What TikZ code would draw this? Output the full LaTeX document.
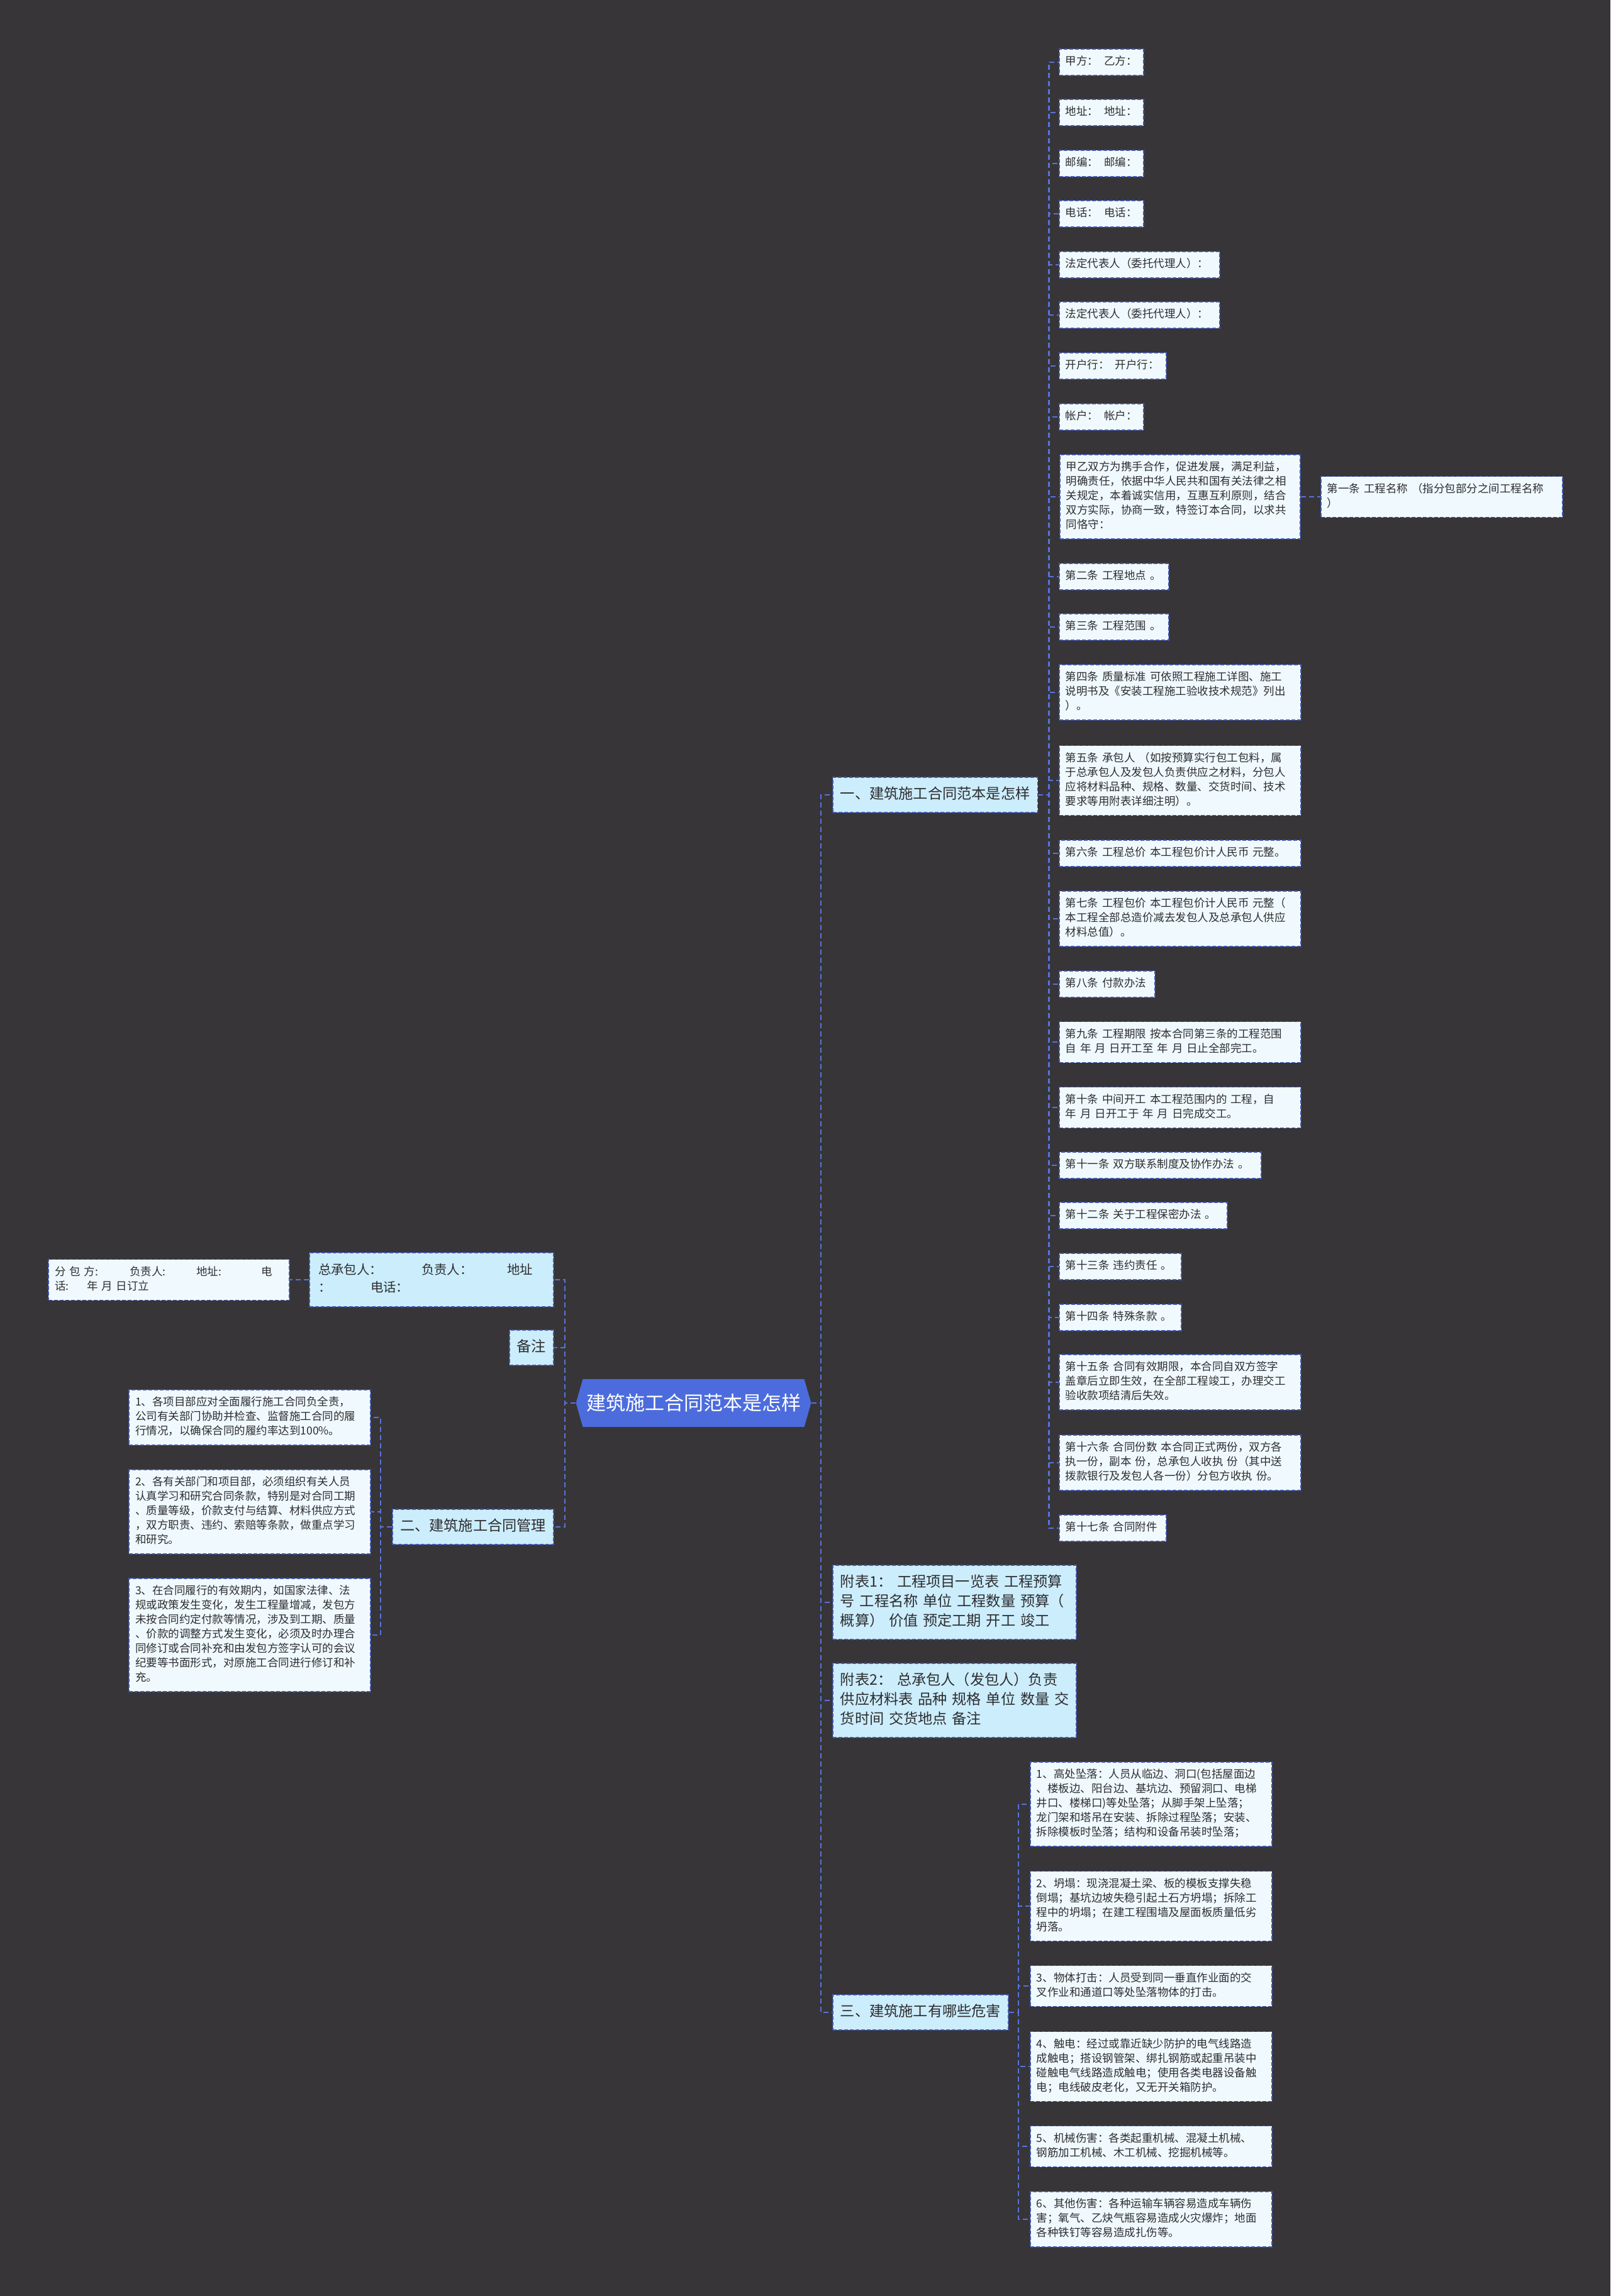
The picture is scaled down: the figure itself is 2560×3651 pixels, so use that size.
\documentclass[tikz,border=0pt]{standalone}
\usepackage{fontspec}
\setmainfont{Noto Sans CJK SC}[WordSpace=1.6]
\usetikzlibrary{shapes.symbols}
\definecolor{bgc}{RGB}{55,53,56}
\definecolor{leafc}{RGB}{240,250,254}
\definecolor{branchc}{RGB}{204,237,252}
\definecolor{rootc}{RGB}{76,108,222}
\definecolor{bordc}{RGB}{66,88,178}
\definecolor{linkc}{RGB}{88,114,222}
\definecolor{txtc}{RGB}{45,45,48}
\newcommand{\leaffont}{\fontsize{8.75}{11.5}\selectfont}
\newcommand{\branchfont}{\fontsize{11.6}{15.5}\selectfont}
\begin{document}
\begin{tikzpicture}[x=0.5pt,y=0.5pt,yscale=-1,xscale=1,
    box/.style={draw=bordc,line width=0.9pt,dash pattern=on 3pt off 1.5pt,text=txtc,
        execute at begin node=\strut,execute at end node=\strut},
    leaf/.style={box,fill=leafc,font=\leaffont,align=left,text width=#1,
        inner xsep=5pt,inner ysep=4.75pt,anchor=west},
    leaf/.default=182pt,
    branch/.style={box,fill=branchc,font=\branchfont,inner xsep=6pt,inner ysep=6.25pt},
    root/.style={shape=signal,signal to=east and west,signal pointer angle=148,
        fill=rootc,text=white,font=\fontsize{15.5}{18}\selectfont,
        inner xsep=2.75pt,inner ysep=12.9pt,text height=12pt,text depth=0.2pt},
    link/.style={draw=linkc,line width=1.2pt,dash pattern=on 4pt off 2.5pt}]
    \fill[bgc] (0,0) rectangle (2560,3651);
    \useasboundingbox (0,0) rectangle (2560,3651);

    % Root
    \node[root] (root) at (1102.5,2231) {建筑施工合同范本是怎样};

    % Right branches
    \node[branch,anchor=west] (b1) at (1323,1264) {一、建筑施工合同范本是怎样};
    \node[branch,anchor=west,align=left,text width=181.5pt] (fb1) at (1323,2548)
        {附表1：~工程项目一览表~工程预算\\号~工程名称~单位~工程数量~预算（\\概算）~价值~预定工期~开工~竣工};
    \node[branch,anchor=west,align=left,text width=181.5pt] (fb2) at (1323,2704)
        {附表2：~总承包人（发包人）负责\\供应材料表~品种~规格~单位~数量~交\\货时间~交货地点~备注};
    \node[branch,anchor=west] (b3) at (1323,3200) {三、建筑施工有哪些危害};

    % Left branches
    \node[box,fill=branchc,font=\fontsize{10.2}{14}\selectfont,align=left,text width=180pt,
        inner xsep=7pt,inner ysep=7.5pt,anchor=east] (zc) at (881,2035)
        {\makebox[82pt][l]{总承包人：}\makebox[68pt][l]{负责人：}地址\\\makebox[41.5pt][l]{：}电话：};
    \node[branch,anchor=east] (bz) at (881,2143) {备注};
    \node[branch,anchor=east] (b2) at (881,2428) {二、建筑施工合同管理};
    \node[leaf=181.5pt,anchor=east] (fb) at (461,2035)
        {\makebox[59.5pt][l]{分~包~方:}\makebox[53pt][l]{负责人:}\makebox[51.5pt][l]{地址:}电\\\makebox[25.5pt][l]{话:}年~月~日订立};

    % Branch one leaves
    \node[leaf=57pt] (j1) at (1683,99) {甲方：\enspace 乙方：};
    \node[leaf=57pt] (j2) at (1683,179) {地址：\enspace 地址：};
    \node[leaf=57pt] (j3) at (1683,260) {邮编：\enspace 邮编：};
    \node[leaf=57pt] (j4) at (1683,340) {电话：\enspace 电话：};
    \node[leaf=117.5pt] (j5) at (1683,421) {法定代表人（委托代理人）：};
    \node[leaf=117.5pt] (j6) at (1683,501) {法定代表人（委托代理人）：};
    \node[leaf=75pt] (j7) at (1683,582) {开户行：\enspace 开户行：};
    \node[leaf=57pt] (j8) at (1683,663) {帐户：\enspace 帐户：};
    \node[leaf=181pt] (jy) at (1684,790) {甲乙双方为携手合作，促进发展，满足利益，\\明确责任，依据中华人民共和国有关法律之相\\关规定，本着诚实信用，互惠互利原则，结合\\双方实际，协商一致，特签订本合同，以求共\\同恪守：};
    \node[leaf] (t1) at (2099,790) {第一条~工程名称~（指分包部分之间工程名称\\）};
    \node[leaf=77pt] (c2) at (1683,917) {第二条~工程地点~。};
    \node[leaf=77pt] (c3) at (1683,997) {第三条~工程范围~。};
    \node[leaf] (c4) at (1683,1101) {第四条~质量标准~可依照工程施工详图、施工\\说明书及《安装工程施工验收技术规范》列出\\）。};
    \node[leaf] (c5) at (1683,1241) {第五条~承包人~（如按预算实行包工包料，属\\于总承包人及发包人负责供应之材料，分包人\\应将材料品种、规格、数量、交货时间、技术\\要求等用附表详细注明）。};
    \node[leaf] (c6) at (1683,1357) {第六条~工程总价~本工程包价计人民币~元整。};
    \node[leaf] (c7) at (1683,1461) {第七条~工程包价~本工程包价计人民币~元整（\\本工程全部总造价减去发包人及总承包人供应\\材料总值）。};
    \node[leaf=66pt] (c8) at (1683,1565) {第八条~付款办法};
    \node[leaf] (c9) at (1683,1657) {第九条~工程期限~按本合同第三条的工程范围\\自~年~月~日开工至~年~月~日止全部完工。};
    \node[leaf] (c10) at (1683,1761) {第十条~中间开工~本工程范围内的~工程，自\\年~月~日开工于~年~月~日完成交工。};
    \node[leaf=150.5pt] (c11) at (1683,1853) {第十一条~双方联系制度及协作办法~。};
    \node[leaf=123.5pt] (c12) at (1683,1933) {第十二条~关于工程保密办法~。};
    \node[leaf=87pt] (c13) at (1683,2014) {第十三条~违约责任~。};
    \node[leaf=87pt] (c14) at (1683,2095) {第十四条~特殊条款~。};
    \node[leaf] (c15) at (1683,2198) {第十五条~合同有效期限，本合同自双方签字\\盖章后立即生效，在全部工程竣工，办理交工\\验收款项结清后失效。};
    \node[leaf] (c16) at (1683,2326) {第十六条~合同份数~本合同正式两份，双方各\\执一份，副本~份，总承包人收执~份（其中送\\拨款银行及发包人各一份）分包方收执~份。};
    \node[leaf=75pt] (c17) at (1683,2430) {第十七条~合同附件};

    % Branch two leaves
    \node[leaf,anchor=east] (m1) at (590,2254) {1、各项目部应对全面履行施工合同负全责，\\公司有关部门协助并检查、监督施工合同的履\\行情况，以确保合同的履约率达到100\%。};
    \node[leaf,anchor=east] (m2) at (590,2404) {2、各有关部门和项目部，必须组织有关人员\\认真学习和研究合同条款，特别是对合同工期\\、质量等级，价款支付与结算、材料供应方式\\，双方职责、违约、索赔等条款，做重点学习\\和研究。};
    \node[leaf,anchor=east] (m3) at (590,2600) {3、在合同履行的有效期内，如国家法律、法\\规或政策发生变化，发生工程量增减，发包方\\未按合同约定付款等情况，涉及到工期、质量\\、价款的调整方式发生变化，必须及时办理合\\同修订或合同补充和由发包方签字认可的会议\\纪要等书面形式，对原施工合同进行修订和补\\充。};

    % Branch three leaves
    \node[leaf] (h1) at (1637,2869) {1、高处坠落：人员从临边、洞口(包括屋面边\\、楼板边、阳台边、基坑边、预留洞口、电梯\\井口、楼梯口)等处坠落；从脚手架上坠落；\\龙门架和塔吊在安装、拆除过程坠落；安装、\\拆除模板时坠落；结构和设备吊装时坠落；};
    \node[leaf] (h2) at (1637,3031) {2、坍塌：现浇混凝土梁、板的模板支撑失稳\\倒塌；基坑边坡失稳引起土石方坍塌；拆除工\\程中的坍塌；在建工程围墙及屋面板质量低劣\\坍落。};
    \node[leaf] (h3) at (1637,3158) {3、物体打击：人员受到同一垂直作业面的交\\叉作业和通道口等处坠落物体的打击。};
    \node[leaf] (h4) at (1637,3286) {4、触电：经过或靠近缺少防护的电气线路造\\成触电；搭设钢管架、绑扎钢筋或起重吊装中\\碰触电气线路造成触电；使用各类电器设备触\\电；电线破皮老化，又无开关箱防护。};
    \node[leaf] (h5) at (1637,3413) {5、机械伤害：各类起重机械、混凝土机械、\\钢筋加工机械、木工机械、挖掘机械等。};
    \node[leaf] (h6) at (1637,3529) {6、其他伤害：各种运输车辆容易造成车辆伤\\害；氧气、乙炔气瓶容易造成火灾爆炸；地面\\各种铁钉等容易造成扎伤等。};

    % Connectors
    \foreach \n in {b1,fb1,fb2,b3}
        \draw[link] (root.east) -- ++(15,0) |- (\n.west);
    \foreach \n in {zc,bz,b2}
        \draw[link] (root.west) -- ++(-17,0) |- (\n.east);
    \foreach \n in {j1,j2,j3,j4,j5,j6,j7,j8,jy,c2,c3,c4,c5,c6,c7,c8,c9,c10,c11,c12,c13,c14,c15,c16,c17}
        \draw[link] (b1.east) -- ++(17,0) |- (\n.west);
    \foreach \n in {m1,m2,m3}
        \draw[link] (b2.west) -- ++(-18,0) |- (\n.east);
    \foreach \n in {h1,h2,h3,h4,h5,h6}
        \draw[link] (b3.east) -- ++(15,0) |- (\n.west);
    \draw[link] (jy.east) -- (t1.west);
    \draw[link] (zc.west) -- (fb.east);
\end{tikzpicture}
\end{document}
